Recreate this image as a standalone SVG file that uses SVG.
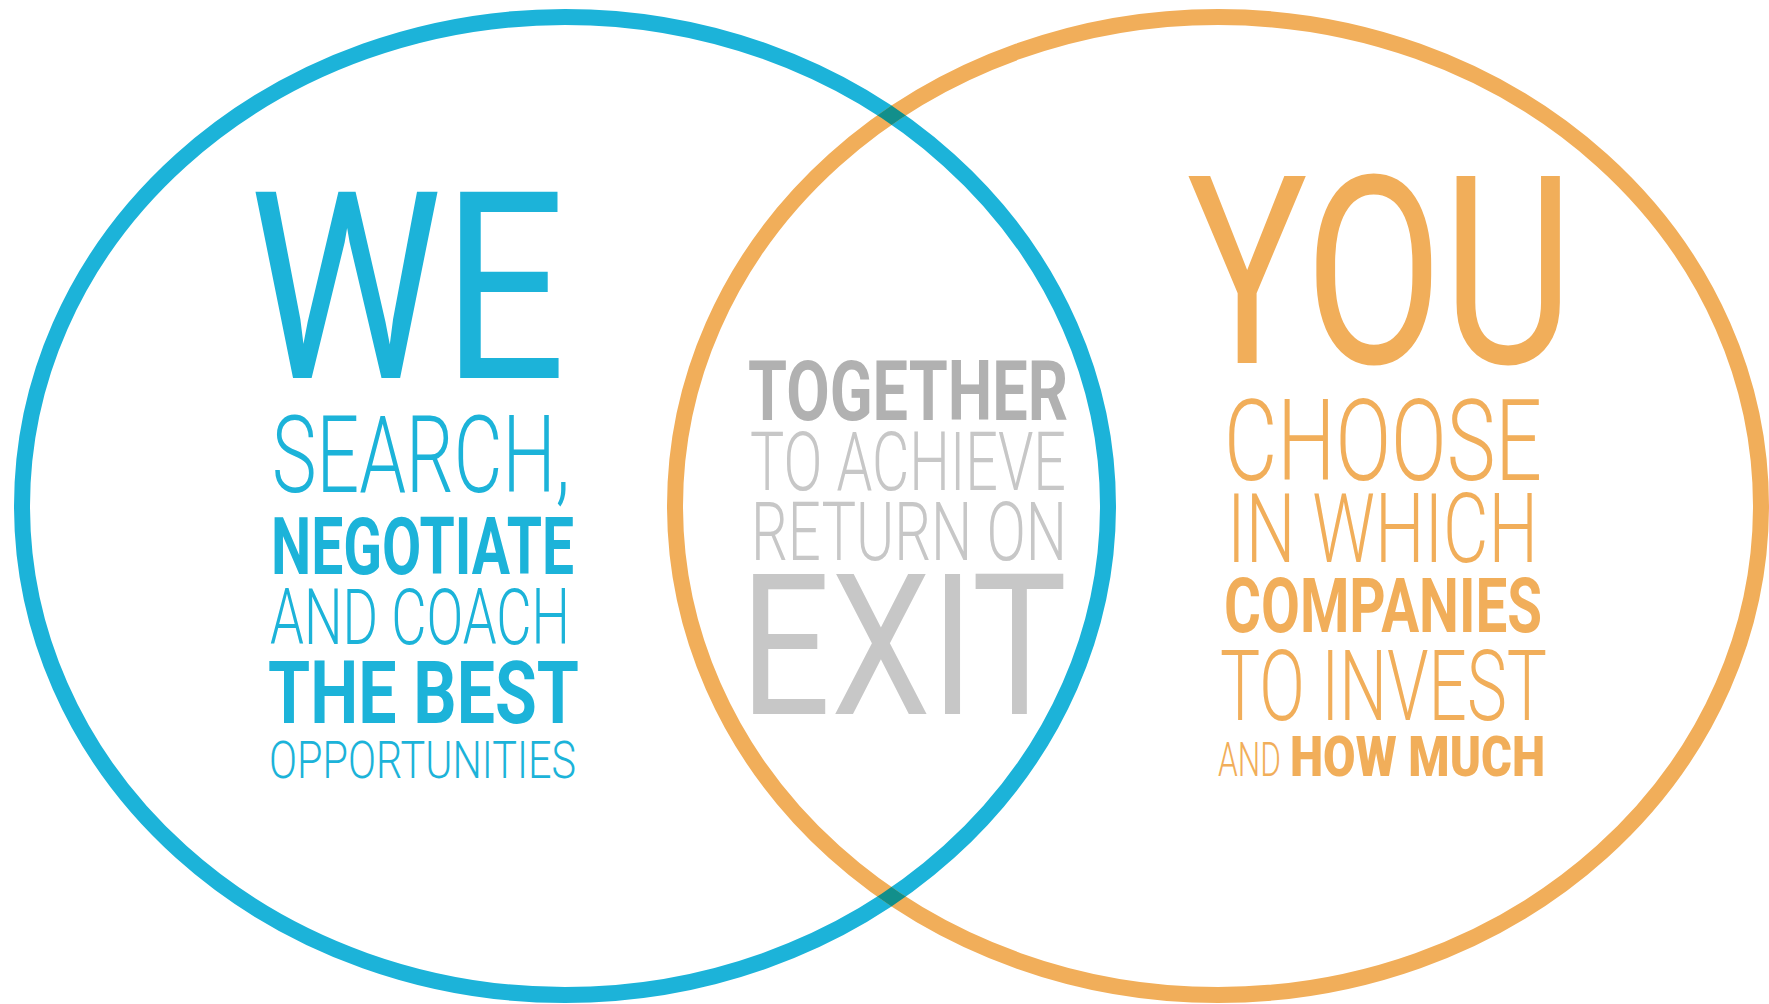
<svg xmlns="http://www.w3.org/2000/svg" width="1769" height="1004" viewBox="0 0 1769 1004">
<style>
.t{font-family:Roboto,"Liberation Sans",sans-serif;}
.b{fill:#1cb3d9}
.o{fill:#f1ae5a}
.g1{fill:#b1b1b1}
.g2{fill:#c7c7c7}
.lt{font-weight:300}
.bd{font-weight:700}
.md{font-weight:400}
.ring{fill:none;stroke-width:16}
</style>
<defs>
<mask id="om" maskUnits="userSpaceOnUse" x="0" y="0" width="1769" height="1004">
<rect width="1769" height="1004" fill="black"/>
<ellipse cx="1218" cy="506" rx="543" ry="489" fill="none" stroke="white" stroke-width="16"/>
</mask>
</defs>
<rect width="1769" height="1004" fill="#ffffff"/>
<g id="connectors">
<ellipse id="we-ring" class="ring" cx="565" cy="506" rx="543" ry="489" stroke="#1cb3d9"/>
<ellipse id="you-ring" class="ring" cx="1218" cy="506" rx="543" ry="489" stroke="#f1ae5a"/>
<ellipse class="ring" cx="565" cy="506" rx="543" ry="489" stroke="#128f8b" mask="url(#om)"/>
</g>
<g id="we">
<text class="t b md" x="249" y="378" font-size="262" textLength="317" lengthAdjust="spacingAndGlyphs">WE</text>
<text class="t b lt" x="272" y="492" font-size="107" textLength="298" lengthAdjust="spacingAndGlyphs">SEARCH,</text>
<text class="t b bd" x="271" y="574" font-size="79" textLength="303" lengthAdjust="spacingAndGlyphs">NEGOTIATE</text>
<text class="t b lt" x="270" y="644" font-size="77" textLength="300" lengthAdjust="spacingAndGlyphs">AND COACH</text>
<text class="t b bd" x="268" y="723" font-size="88" textLength="311" lengthAdjust="spacingAndGlyphs">THE BEST</text>
<text class="t b lt" x="269" y="778" font-size="52" textLength="307" lengthAdjust="spacingAndGlyphs">OPPORTUNITIES</text>
</g>
<g id="together">
<text class="t g1 bd" x="748" y="420" font-size="84" textLength="320" lengthAdjust="spacingAndGlyphs">TOGETHER</text>
<text class="t g2 lt" x="750" y="490" font-size="81" textLength="316" lengthAdjust="spacingAndGlyphs">TO ACHIEVE</text>
<text class="t g2 lt" x="751" y="560" font-size="81" textLength="316" lengthAdjust="spacingAndGlyphs">RETURN ON</text>
<text class="t g2" x="740" y="714" font-size="197" textLength="327" lengthAdjust="spacingAndGlyphs">EXIT</text>
</g>
<g id="you">
<text class="t o md" x="1187" y="363" font-size="263" textLength="386" lengthAdjust="spacingAndGlyphs">YOU</text>
<text class="t o lt" x="1224" y="480" font-size="113" textLength="318" lengthAdjust="spacingAndGlyphs">CHOOSE</text>
<text class="t o lt" x="1227" y="562" font-size="96" textLength="311" lengthAdjust="spacingAndGlyphs">IN WHICH</text>
<text class="t o bd" x="1224" y="632" font-size="76" textLength="318" lengthAdjust="spacingAndGlyphs">COMPANIES</text>
<text class="t o lt" x="1220" y="720" font-size="98" textLength="327" lengthAdjust="spacingAndGlyphs">TO INVEST</text>
<text class="t o lt" x="1218" y="776" font-size="48" textLength="63" lengthAdjust="spacingAndGlyphs">AND</text>
<text class="t o" style="font-weight:900" x="1290" y="776" font-size="55" textLength="255" lengthAdjust="spacingAndGlyphs">HOW MUCH</text>
</g>
</svg>
